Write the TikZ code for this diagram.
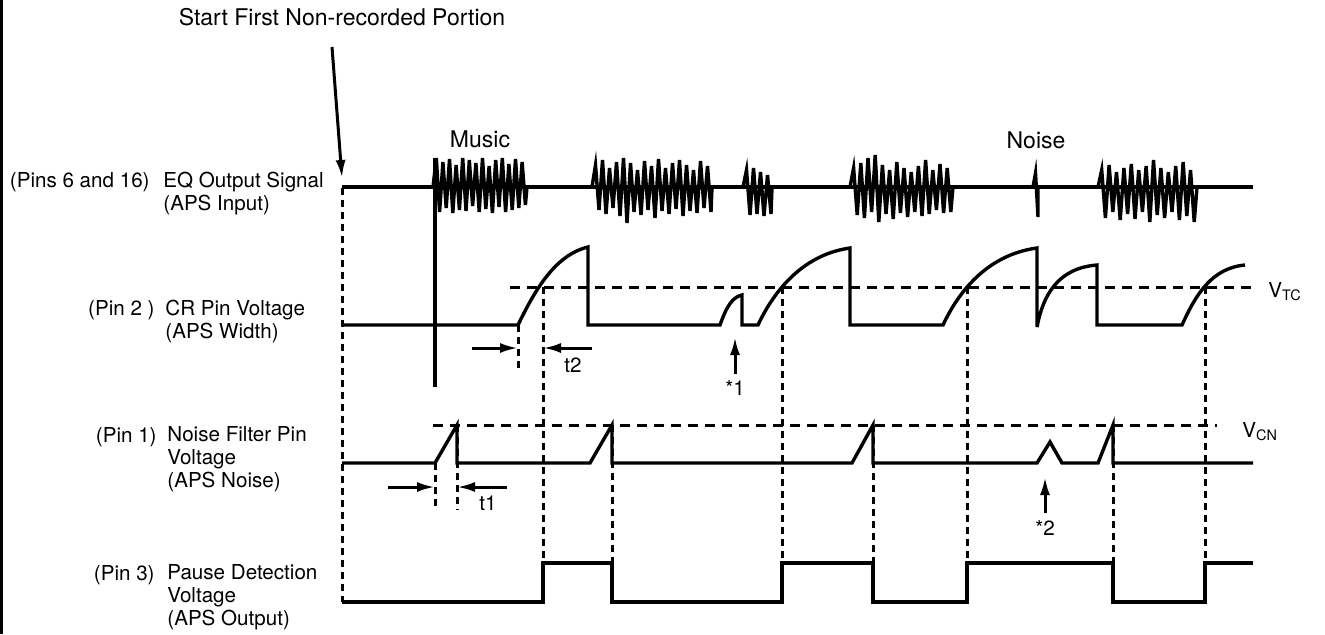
\documentclass[tikz,border=0pt]{standalone}
\usepackage{fontspec}
\setmainfont{TeX Gyre Heros}
\usetikzlibrary{arrows.meta}

% one burst of the EQ output signal: start x, step, end x, list of top/bottom
\newcommand{\burst}[4]{%
  \draw[wave] (#1,187) \foreach[count=\k] \ytop/\ybot in {#4}
    { -- ({#1+(\k-0.5)*#2},\ytop) -- ({#1+\k*#2},\ybot)} -- (#3,187);}

\begin{document}
\begin{tikzpicture}[x=0.5pt,y=-0.5pt,
  wave/.style={line width=1.7pt},
  guide/.style={line width=1.5pt,dash pattern=on 3.5pt off 2.5pt},
  level/.style={line width=1.5pt,dash pattern=on 5pt off 3.5pt},
  arr/.style={-{Latex[length=9pt,width=5pt]},line width=1.5pt},
  lbl/.style={font=\fontsize{10.3}{11.5}\selectfont,inner sep=0pt},
  big/.style={font=\fontsize{11.5}{13}\selectfont,inner sep=0pt,anchor=base},
  desc/.style={lbl,align=left,anchor=north west}
]
\useasboundingbox (0,0) rectangle (1325,634);
\draw[line width=1.5pt] (1.5,0) -- (1.5,634);

% Headings.
\node[big] (title) at (342,25) {Start First Non-recorded Portion};
\node[big] (music) at (480,147) {Music};
\node[big] (noise) at (1036,148) {Noise};
\coordinate (startS) at (332,47);
\coordinate (startE) at (342,178);
\draw[arr] (startS) -- (startE);

% Row titles.
\node[lbl,anchor=base east] (pinEQ) at (150,187) {(Pins 6 and 16)};
\node[desc] (sigEQ) at (163,171.5) {EQ Output Signal\\(APS Input)};
\node[lbl,anchor=base east] (pinCR) at (155,315) {(Pin 2 )};
\node[desc] (sigCR) at (165,299.5) {CR Pin Voltage\\(APS Width)};
\node[lbl,anchor=base east] (pinNF) at (157,442) {(Pin 1)};
\node[desc] (sigNF) at (167,426.5) {Noise Filter Pin\\Voltage\\(APS Noise)};
\node[lbl,anchor=base east] (pinPD) at (155,580) {(Pin 3)};
\node[desc] (sigPD) at (167,564.5) {Pause Detection\\Voltage\\(APS Output)};

% EQ output signal.
\draw[wave] (342,187) -- (1253,187);
\draw[wave] (435,158) -- (435,387);
\burst{433}{6.6}{527}{158/212,162/208,159/213,165/210,158/211,160/206,163/212,
  158/209,166/213,160/207,158/212,164/210,159/208,162/205}
\burst{592}{7}{712}{165/210,160/214,168/208,162/216,158/223,163/212,170/215,
  161/210,166/218,159/211,168/214,163/209,160/216,165/211,170/213,161/208,166/212}
\burst{743}{7}{772}{170/215,168/214,172/216,175/214}
\burst{850}{7.2}{953}{168/215,163/218,158/212,155/222,165/214,170/219,162/213,
  168/217,172/212,166/216,160/214,170/210,164/213,168/212}
\burst{1033}{5}{1038}{173/217}
\burst{1098}{7.4}{1197}{170/218,165/212,172/220,168/214,164/219,170/212,166/222,
  160/215,168/218,172/212,166/220,162/216,170/222}

% CR pin voltage.
\draw[level] (510,287) -- (1253,287);
\node[lbl,anchor=base west] (vtc) at (1268,297) {V\textsubscript{TC}};
\draw[wave] (342,325) -- (518,325) .. controls (535,290) and (555,255) .. (588,247)
  -- (588,325) -- (720,325) .. controls (727,305) and (733,297) .. (742,295)
  -- (742,325) -- (758,325) .. controls (772,295) and (800,255) .. (850,248)
  -- (850,325) -- (943,325) .. controls (957,295) and (985,255) .. (1037,248)
  -- (1037,327) .. controls (1043,295) and (1058,268) .. (1097,265)
  -- (1097,325) -- (1182,325) .. controls (1196,294) and (1212,268) .. (1245,265);
\draw[guide] (518,325) -- (518,372);
\coordinate (t2a) at (472,348);
\coordinate (t2b) at (518,348);
\coordinate (t2c) at (592,348);
\coordinate (t2d) at (543,348);
\draw[arr] (t2a) -- (t2b);
\draw[arr] (t2c) -- (t2d);
\node[lbl,anchor=base] (t2) at (573,372) {t2};
\coordinate (m1a) at (735,374);
\coordinate (m1b) at (735,337);
\draw[arr] (m1a) -- (m1b);
\node[lbl,anchor=base] (mark1) at (735,395) {*1};

% Noise filter pin voltage.
\draw[level] (433,425) -- (1217,425);
\node[lbl,anchor=base west] (vcn) at (1242,437) {V\textsubscript{CN}};
\draw[wave] (342,463) -- (435,463) -- (457,425) -- (457,463) -- (590,463)
  -- (612,425) -- (612,463) -- (852,463) -- (873,425) -- (873,463)
  -- (1037,463) -- (1050,442) -- (1062,463) -- (1098,463) -- (1113,425)
  -- (1113,463) -- (1253,463);
\draw[guide] (435,463) -- (435,510);
\draw[guide] (457,425) -- (457,510);
\coordinate (t1a) at (388,487);
\coordinate (t1b) at (435,487);
\coordinate (t1c) at (507,487);
\coordinate (t1d) at (457,487);
\draw[arr] (t1a) -- (t1b);
\draw[arr] (t1c) -- (t1d);
\node[lbl,anchor=base] (t1) at (488,510) {t1};
\coordinate (m2a) at (1045,513);
\coordinate (m2b) at (1045,477);
\draw[arr] (m2a) -- (m2b);
\node[lbl,anchor=base] (mark2) at (1045,535) {*2};

% Pause detection voltage.
\draw[wave] (342,602) -- (543,602) -- (543,563) -- (612,563) -- (612,602)
  -- (782,602) -- (782,563) -- (873,563) -- (873,602) -- (967,602)
  -- (967,563) -- (1113,563) -- (1113,602) -- (1205,602) -- (1205,563)
  -- (1253,563);

% Timing guides.
\draw[guide] (342,188) -- (342,602);
\foreach \gx in {543,782,967,1205}
  \draw[guide] (\gx,287) -- (\gx,563);
\foreach \gx in {612,873,1113}
  \draw[guide] (\gx,425) -- (\gx,563);
\end{tikzpicture}
\end{document}
